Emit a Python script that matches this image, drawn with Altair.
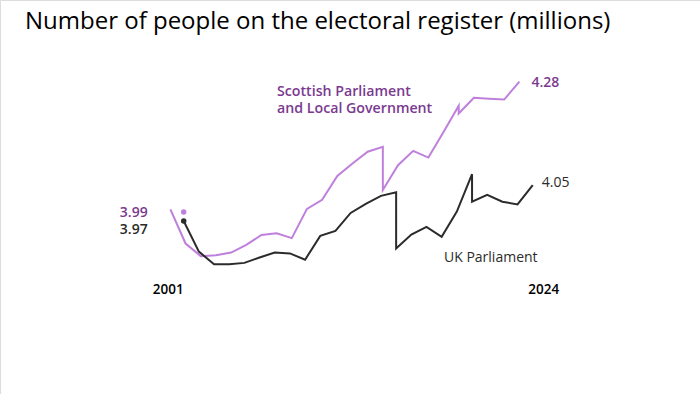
import altair as alt
import pandas as pd

# UK Parliament register (1 December); 2015 and 2020 carry two readings
uk_years = [2001, 2002, 2003, 2004, 2005, 2006, 2007, 2008, 2009, 2010, 2011,
            2012, 2013, 2014, 2015, 2015, 2016, 2017, 2018, 2019, 2020, 2020,
            2021, 2022, 2023, 2024]
uk_values = [3.970, 3.902, 3.874, 3.874, 3.877, 3.889, 3.900, 3.898, 3.884,
             3.937, 3.948, 3.988, 4.008, 4.026, 4.034, 3.909, 3.940, 3.957,
             3.935, 3.991, 4.074, 4.013, 4.028, 4.013, 4.007, 4.050]

# Scottish Parliament and Local Government register (mid January)
sp_years = [2001, 2002, 2003, 2004, 2005, 2006, 2007, 2008, 2009, 2010, 2011,
            2012, 2013, 2014, 2015, 2015, 2016, 2017, 2018, 2019, 2020, 2020,
            2021, 2022, 2023, 2024]
sp_values = [3.996, 3.920, 3.892, 3.894, 3.900, 3.917, 3.939, 3.943, 3.932,
             3.997, 4.017, 4.070, 4.098, 4.124, 4.135, 4.039, 4.094, 4.126,
             4.111, 4.168, 4.226, 4.209, 4.244, 4.242, 4.240, 4.280]

# 2001 starting values marked with a dot
start_uk = 3.97
start_sp = 3.99

UK_DATE = (12, 1)
SP_DATE = (1, 15)

PURPLE_LINE = "#bf7fdc"
PURPLE_TEXT = "#7b3a8f"
DARK = "#2b2b2b"
FONT = "Open Sans"


def frac_year(year, month, day):
    d = pd.Timestamp(year=year, month=month, day=day)
    return year + (d.dayofyear - 1) / 365.0


uk = pd.DataFrame({
    "t": [frac_year(y, *UK_DATE) for y in uk_years],
    "value": uk_values,
    "idx": range(len(uk_years)),
})
sp = pd.DataFrame({
    "t": [frac_year(y, *SP_DATE) for y in sp_years],
    "value": sp_values,
    "idx": range(len(sp_years)),
})
starts = pd.DataFrame({
    "t": [frac_year(2001, *UK_DATE)] * 2,
    "value": [start_sp, start_uk],
    "series": ["sp", "uk"],
})

x_scale = alt.Scale(domain=[1989.809, 2035.940], nice=False, zero=False)
y_scale = alt.Scale(domain=[3.58562, 4.46117], nice=False, zero=False)
X = alt.X("t:Q", scale=x_scale, axis=None)
Y = alt.Y("value:Q", scale=y_scale, axis=None)

sp_line = alt.Chart(sp).mark_line(color=PURPLE_LINE, strokeWidth=2).encode(
    x=X, y=Y, order="idx:Q")
uk_line = alt.Chart(uk).mark_line(color=DARK, strokeWidth=2).encode(
    x=X, y=Y, order="idx:Q")

dots = alt.Chart(starts).mark_circle(size=30, opacity=1).encode(
    x=X, y=Y,
    color=alt.Color("series:N", scale=alt.Scale(domain=["sp", "uk"],
                                                range=[PURPLE_LINE, DARK]),
                    legend=None))

label_style = dict(font=FONT, fontSize=14, fontWeight=600, baseline="alphabetic")

start_sp_lbl = alt.Chart(starts[starts.series == "sp"]).mark_text(
    align="right", dx=-36, dy=5, color=PURPLE_TEXT, **label_style).encode(
    x=X, y=Y, text=alt.Text("value:Q", format=".2f"))
start_uk_lbl = alt.Chart(starts[starts.series == "uk"]).mark_text(
    align="right", dx=-36, dy=13, color=DARK, **label_style).encode(
    x=X, y=Y, text=alt.Text("value:Q", format=".2f"))

end_sp_lbl = alt.Chart(sp.tail(1)).mark_text(
    align="left", dx=12, dy=5, color=PURPLE_TEXT, **label_style).encode(
    x=X, y=Y, text=alt.Text("value:Q", format=".2f"))
end_uk_lbl = alt.Chart(uk.tail(1)).mark_text(
    align="left", dx=9, dy=2, color=DARK, font=FONT, fontSize=14,
    baseline="alphabetic").encode(
    x=X, y=Y, text=alt.Text("value:Q", format=".2f"))


def note(text, x, y, color, weight="normal", size=14.2):
    return alt.Chart(pd.DataFrame({"line": [text]})).mark_text(
        align="left", color=color, font=FONT, fontSize=size, fontWeight=weight,
        baseline="alphabetic").encode(
        x=alt.value(x), y=alt.value(y), text="line:N")


sp_name1 = note("Scottish Parliament", 277, 95.7, PURPLE_TEXT, 600)
sp_name2 = note("and Local Government", 277, 113.3, PURPLE_TEXT, 600)
uk_name = note("UK Parliament", 444, 261.5, DARK, "normal", 14)

year_first = alt.Chart(pd.DataFrame({"t": [frac_year(2001, *UK_DATE)],
                                     "label": ["2001"]})).mark_text(
    align="right", dx=0, color="black", font=FONT, fontSize=13.5,
    fontWeight=600, baseline="alphabetic").encode(
    x=X, y=alt.value(294.3), text="label:N")
year_last = alt.Chart(pd.DataFrame({"t": [frac_year(2024, *UK_DATE)],
                                    "label": ["2024"]})).mark_text(
    align="center", dx=11, color="black", font=FONT, fontSize=13.5,
    fontWeight=600, baseline="alphabetic").encode(
    x=X, y=alt.value(294), text="label:N")

title = note("Number of people on the electoral register (millions)",
             25, 29, "black", "normal", 24)

chart = alt.layer(
    sp_line, uk_line, dots,
    start_sp_lbl, start_uk_lbl, end_sp_lbl, end_uk_lbl,
    sp_name1, sp_name2, uk_name, year_first, year_last, title,
).properties(
    width=700, height=394, padding=0,
    autosize=alt.AutoSizeParams(type="none"),
).configure_view(stroke=None).configure(background="white")

chart.save("out.html", embed_options={"renderer": "svg", "actions": False})
